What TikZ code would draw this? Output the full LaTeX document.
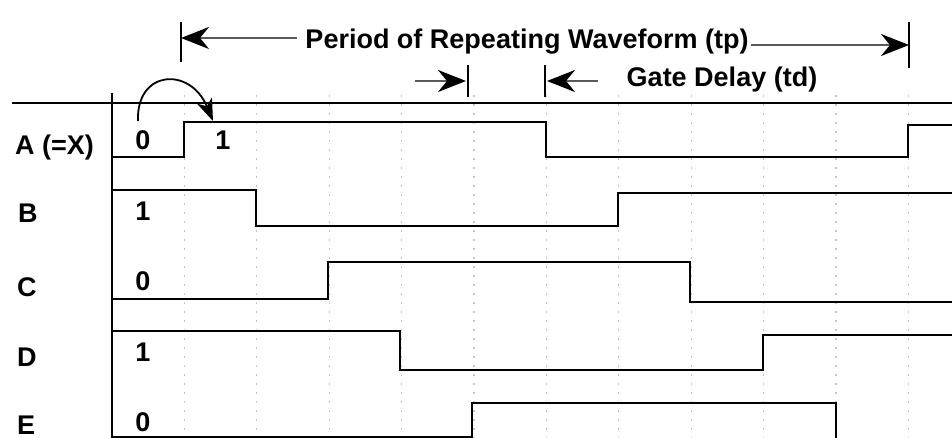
\documentclass[tikz,border=0pt]{standalone}
\usepackage{fontspec}
\setmainfont{Liberation Sans}
\usetikzlibrary{arrows.meta}

\begin{document}
\begin{tikzpicture}[x=1pt,y=-1pt,
  headtip/.style={-{Stealth[length=28pt,width=22pt,inset=9pt,black]}},
  lbl/.style={font=\bfseries\fontsize{27}{27}\selectfont,inner sep=0pt},
  wave/.style={line width=2.6pt,line cap=rect},
  grid/.style={gray!45,line width=1.3pt,dash pattern=on 2pt off 7pt},
  bar/.style={line width=2.2pt},
  dim/.style={headtip,black!65,line width=2.2pt}]
  \useasboundingbox (0,0) rectangle (952,438);
  % dotted time grid
  \foreach \k in {1,...,11}
    \draw[grid] (112+72.4*\k,95)--(112+72.4*\k,438);
  \draw[line width=2pt](12,103)--(952,103);
  \draw[line width=2pt](112,93)--(112,440);
  % signals
  \draw[wave](112,157)--(184,157)--(184,122)--(546,122)--(546,157)--(908,157)--(908,125)--(952,125);
  \draw[wave](112,190)--(256,190)--(256,226)--(618,226)--(618,193)--(952,193);
  \draw[wave](112,299)--(328,299)--(328,262)--(690,262)--(690,302)--(952,302);
  \draw[wave](112,331)--(400,331)--(400,370)--(763,370)--(763,335)--(952,335);
  \draw[wave](112,437)--(472,437)--(472,403)--(836,403)--(836,440);
  % row names and levels
  \node[lbl,anchor=west] (nA) at (15,148) {A (=X)};
  \node[lbl,anchor=west] (nB) at (18,213) {B};
  \node[lbl,anchor=west] (nC) at (17,287) {C};
  \node[lbl,anchor=west] (nD) at (17,357) {D};
  \node[lbl,anchor=west] (nE) at (17,425) {E};
  \node[lbl] (a0) at (143,140) {0};
  \node[lbl] (a1) at (223,140) {1};
  \node[lbl] (b1) at (143,211) {1};
  \node[lbl] (c0) at (143,281) {0};
  \node[lbl] (d1) at (143,352) {1};
  \node[lbl] (e0) at (143,422) {0};
  \coordinate (arcS) at (138,121);
  \coordinate (arcE) at (213,121);
  \draw[-{Stealth[length=22pt,width=16pt,inset=6pt]},line width=1.8pt](arcS)..controls(136,70)and(190,66)..(arcE);
  % period of repeating waveform
  \node[lbl] (per) at (527,42) {Period of Repeating Waveform (tp)};
  \coordinate (perL) at (181,22);
  \coordinate (perR) at (909,22);
  \draw[bar](perL)--++(0,40);
  \draw[bar](perR)--++(0,46);
  \draw[dim]([xshift=-8pt,yshift=4pt]per.west)--(perL|-38,38);
  \draw[dim]([xshift=2pt,yshift=-3pt]per.east)--(perR|-45,45);
  % gate delay
  \node[lbl] (gd) at (722,80) {Gate Delay (td)};
  \coordinate (gdL) at (468,65);
  \coordinate (gdR) at (545,65);
  \draw[bar](gdL)--++(0,32);
  \draw[bar](gdR)--++(0,32);
  \coordinate (gdA) at (415,81);
  \coordinate (gdB) at (598,81);
  \draw[dim](gdA)--([xshift=-2pt]gdL|-gdA);
  \draw[dim](gdB)--([xshift=2pt]gdR|-gdB);
\end{tikzpicture}
\end{document}
